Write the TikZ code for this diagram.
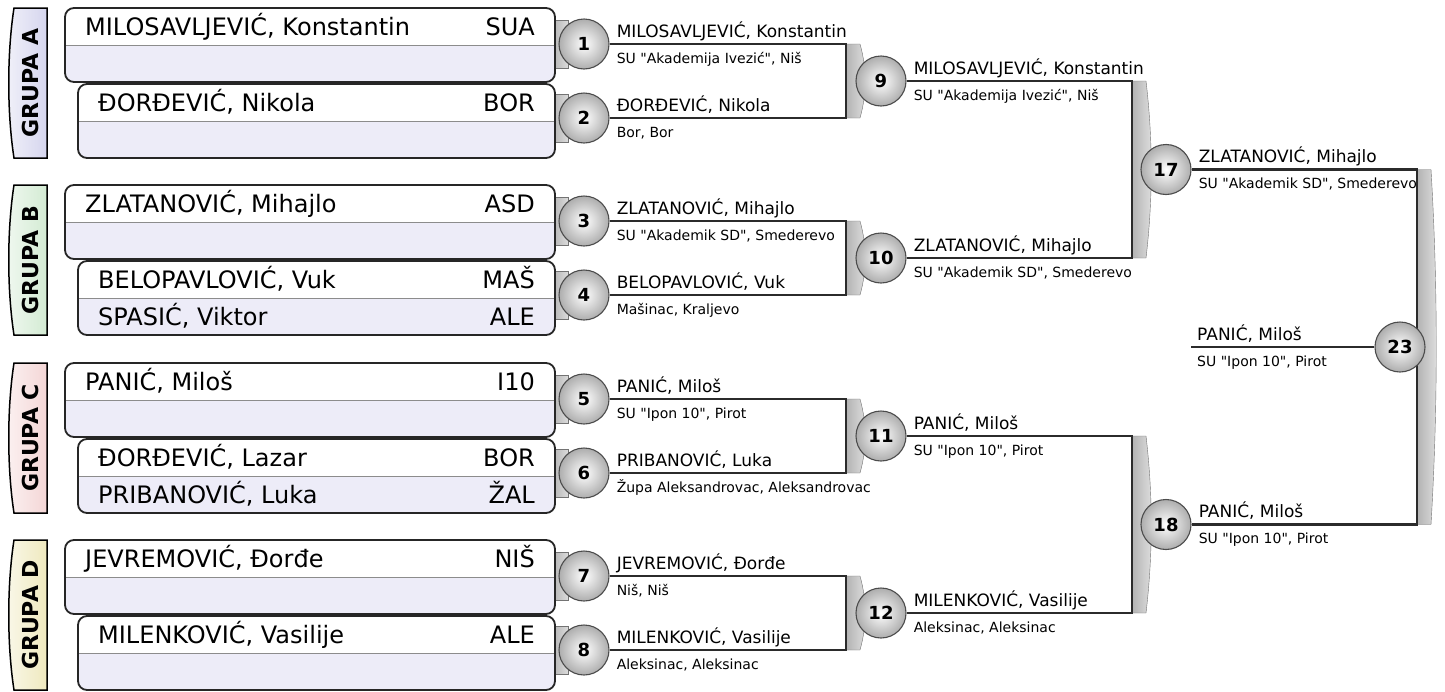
\documentclass[tikz,border=0pt]{standalone}
\usepackage{fontspec}
\setmainfont{DejaVu Sans}[Ligatures=TeXOff]
\usetikzlibrary{calc}
\usetikzlibrary{positioning}
\pgfdeclarelayer{pozadina}
\pgfsetlayers{pozadina,main}
\definecolor{linija}{HTML}{2B2B2B}
\definecolor{donjired}{HTML}{EDECF8}
\definecolor{grupaA}{HTML}{D5D5EE}
\definecolor{grupaB}{HTML}{D3EBD3}
\definecolor{grupaC}{HTML}{F4D6D6}
\definecolor{grupaD}{HTML}{EFE9BE}
\newcommand{\velikifont}{\fontsize{24}{28}\selectfont}
\newcommand{\imefont}{\fontsize{17}{20}\selectfont}
\newcommand{\klubfont}{\fontsize{14}{16}\selectfont}
\newcommand{\brojfont}{\fontsize{18}{22}\selectfont\bfseries}
\newcommand{\grupafont}{\fontsize{22}{25}\selectfont\bfseries}
\pgfmathsetmacro\desno{555}
\newcommand{\kartica}[3]{
	\draw[line width=1.5, left color=#3!35, right color=#3]
		(14, #1) -- (47, #1) -- (47, #1+150) -- (14, #1+150)
		.. controls (7, #1+105) and (7, #1+45) .. (14, #1) -- cycle;
	\node[rotate=90, font=\grupafont] (grupa#2) at (30, #1+75) {GRUPA #2};
}
\newcommand{\kutija}[2]{
	\begin{scope}
		\clip[rounded corners=9pt] (#1, #2) rectangle (\desno, #2+74);
		\fill[donjired] (#1, #2) rectangle (\desno, #2+74);
		\fill[white] (#1, #2) rectangle (\desno, #2+37);
	\end{scope}
	\draw[black!45] (#1, #2+37) -- (\desno, #2+37);
	\draw[line width=1.8, draw=black!85, rounded corners=9pt] (#1, #2) rectangle (\desno, #2+74);
}
\newcommand{\jezicak}[1]{
	\draw[black!55, left color=black!30, right color=black!14]
		(552, #1-24) rectangle (568, #1+24);
}
\newcommand{\traka}[3]{
	\pgfmathsetmacro\duzina{(#3-#2)/3}
	\draw[black!55, left color=black!30, right color=black!12]
		(#1, #2) -- (#1+14, #2)
		.. controls (#1+21, #2+\duzina) and (#1+21, #3-\duzina) .. (#1+14, #3)
		-- (#1, #3) -- cycle;
}
\newcommand{\borac}[3]{
	\node[ime] (ime#1) at ([xshift=7pt, yshift=7pt]m#1.east) {#2};
	\node[klub] (klub#1) at ([xshift=7pt, yshift=-19pt]m#1.east) {#3};
}

\begin{document}
\begin{tikzpicture}[x=1pt, y=-1pt,
		krug/.style={circle, draw=black!70, line width=1.1pt, inner color=white,
			outer color=black!32, minimum size=50pt, inner sep=0pt, font=\brojfont},
		spoj/.style={draw=linija, line width=2.3pt},
		ime/.style={anchor=base west, inner sep=0pt, font=\imefont},
		klub/.style={anchor=base west, inner sep=0pt, font=\klubfont},
		ulaz/.style={anchor=base west, inner sep=0pt, font=\velikifont},
		sifra/.style={anchor=base east, inner sep=0pt, font=\velikifont}]

	\useasboundingbox (0, 0) rectangle (1445, 691);

	% grupe
	\kartica{8}{A}{grupaA}
	\kartica{185}{B}{grupaB}
	\kartica{363}{C}{grupaC}
	\kartica{540}{D}{grupaD}

	\begin{pgfonlayer}{pozadina}
		\jezicak{44} \jezicak{118} \jezicak{221} \jezicak{295}
		\jezicak{399} \jezicak{473} \jezicak{576} \jezicak{650}
		\traka{846}{44}{118}
		\traka{846}{221}{295}
		\traka{846}{399}{473}
		\traka{846}{576}{650}
		\traka{1132}{81}{258}
		\traka{1132}{436}{613}
		\traka{1417}{169.5}{524.5}
	\end{pgfonlayer}

	\kutija{65}{8}
	\kutija{78}{84}
	\kutija{65}{185}
	\kutija{78}{261}
	\kutija{65}{363}
	\kutija{78}{439}
	\kutija{65}{540}
	\kutija{78}{616}

	\node[ulaz] (a1) at (85, 35) {MILOSAVLJEVIĆ, Konstantin};
	\node[sifra] (a1s) at (535, 35) {SUA};
	\node[ulaz] (a2) at (98, 111) {ĐORĐEVIĆ, Nikola};
	\node[sifra] (a2s) at (535, 111) {BOR};
	\node[ulaz] (b1) at (85, 212) {ZLATANOVIĆ, Mihajlo};
	\node[sifra] (b1s) at (535, 212) {ASD};
	\node[ulaz] (b2) at (98, 288) {BELOPAVLOVIĆ, Vuk};
	\node[sifra] (b2s) at (535, 288) {MAŠ};
	\node[ulaz] (b3) at (98, 325) {SPASIĆ, Viktor};
	\node[sifra] (b3s) at (535, 325) {ALE};
	\node[ulaz] (c1) at (85, 390) {PANIĆ, Miloš};
	\node[sifra] (c1s) at (535, 390) {I10};
	\node[ulaz] (c2) at (98, 466) {ĐORĐEVIĆ, Lazar};
	\node[sifra] (c2s) at (535, 466) {BOR};
	\node[ulaz] (c3) at (98, 503) {PRIBANOVIĆ, Luka};
	\node[sifra] (c3s) at (535, 503) {ŽAL};
	\node[ulaz] (d1) at (85, 567) {JEVREMOVIĆ, Đorđe};
	\node[sifra] (d1s) at (535, 567) {NIŠ};
	\node[ulaz] (d2) at (98, 643) {MILENKOVIĆ, Vasilije};
	\node[sifra] (d2s) at (535, 643) {ALE};

	% mecevi
	\node[krug] (m1) at (584, 44) {1};
	\node[krug] (m2) at (584, 118) {2};
	\node[krug] (m3) at (584, 221) {3};
	\node[krug] (m4) at (584, 295) {4};
	\node[krug] (m5) at (584, 399) {5};
	\node[krug] (m6) at (584, 473) {6};
	\node[krug] (m7) at (584, 576) {7};
	\node[krug] (m8) at (584, 650) {8};
	\node[krug] (m9) at (881, 81) {9};
	\node[krug] (m10) at (881, 258) {10};
	\node[krug] (m11) at (881, 436) {11};
	\node[krug] (m12) at (881, 613) {12};
	\node[krug] (m17) at (1166, 169.5) {17};
	\node[krug] (m18) at (1166, 524.5) {18};
	\node[krug] (m23) at (1400, 347) {23};

	\coordinate (s9) at (846, 81);
	\coordinate (s10) at (846, 258);
	\coordinate (s11) at (846, 436);
	\coordinate (s12) at (846, 613);
	\coordinate (s17) at (1132, 169.5);
	\coordinate (s18) at (1132, 524.5);
	\coordinate (s23) at (1417, 347);
	\coordinate (kraj) at (1191, 347);

	\begin{pgfonlayer}{pozadina}
		\draw[spoj] (m1.east) -| (s9) |- (m2.east);
		\draw[spoj] (m3.east) -| (s10) |- (m4.east);
		\draw[spoj] (m5.east) -| (s11) |- (m6.east);
		\draw[spoj] (m7.east) -| (s12) |- (m8.east);
		\draw[spoj] (m9.east) -| (s17) |- (m10.east);
		\draw[spoj] (m11.east) -| (s18) |- (m12.east);
		\draw[spoj] (m17.east) -| (s23) |- (m18.east);
		\draw[spoj] (m23.west) -- (kraj);
	\end{pgfonlayer}

	\borac{1}{MILOSAVLJEVIĆ, Konstantin}{SU "Akademija Ivezić", Niš}
	\borac{2}{ĐORĐEVIĆ, Nikola}{Bor, Bor}
	\borac{3}{ZLATANOVIĆ, Mihajlo}{SU "Akademik SD", Smederevo}
	\borac{4}{BELOPAVLOVIĆ, Vuk}{Mašinac, Kraljevo}
	\borac{5}{PANIĆ, Miloš}{SU "Ipon 10", Pirot}
	\borac{6}{PRIBANOVIĆ, Luka}{Župa Aleksandrovac, Aleksandrovac}
	\borac{7}{JEVREMOVIĆ, Đorđe}{Niš, Niš}
	\borac{8}{MILENKOVIĆ, Vasilije}{Aleksinac, Aleksinac}
	\borac{9}{MILOSAVLJEVIĆ, Konstantin}{SU "Akademija Ivezić", Niš}
	\borac{10}{ZLATANOVIĆ, Mihajlo}{SU "Akademik SD", Smederevo}
	\borac{11}{PANIĆ, Miloš}{SU "Ipon 10", Pirot}
	\borac{12}{MILENKOVIĆ, Vasilije}{Aleksinac, Aleksinac}
	\borac{17}{ZLATANOVIĆ, Mihajlo}{SU "Akademik SD", Smederevo}
	\borac{18}{PANIĆ, Miloš}{SU "Ipon 10", Pirot}

	\node[ime] (ime23) at ([xshift=6pt, yshift=7pt]kraj) {PANIĆ, Miloš};
	\node[klub] (klub23) at ([xshift=6pt, yshift=-19pt]kraj) {SU "Ipon 10", Pirot};

\end{tikzpicture}
\end{document}
